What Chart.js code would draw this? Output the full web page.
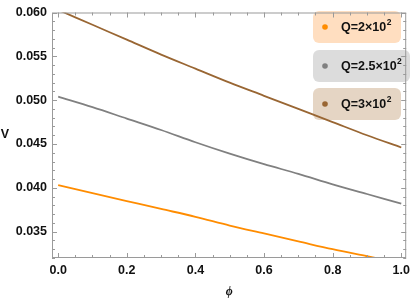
<!DOCTYPE html>
<html>
<head>
<meta charset="utf-8">
<script src="https://cdn.jsdelivr.net/npm/chart.js@4"></script>
<style>
  html, body { margin: 0; padding: 0; background: #fff; }
  #wrap { width: 415px; height: 299px; }
</style>
</head>
<body>
<div id="wrap"><canvas id="myChart" width="415" height="299"></canvas></div>
<script>
// phi values
const phi = [0, 0.1, 0.2, 0.3, 0.4, 0.5, 0.6, 0.7, 0.8, 0.9, 1.0];
// V for each Q
const vQ200 = [0.0403, 0.0394, 0.0385, 0.0376, 0.0367, 0.0357, 0.0348, 0.0339, 0.0330, 0.0322, 0.0314];
const vQ250 = [0.0504, 0.0492, 0.0479, 0.0466, 0.0452, 0.0439, 0.0427, 0.0416, 0.0404, 0.0393, 0.0382];
const vQ300 = [0.0603, 0.0586, 0.0569, 0.0552, 0.0536, 0.0520, 0.0505, 0.0490, 0.0475, 0.0460, 0.0446];

const xTicks = [0, 0.2, 0.4, 0.6, 0.8, 1.0];
const yTicks = [0.035, 0.040, 0.045, 0.050, 0.055, 0.060];
const legendNames = ["2", "2.5", "3"];

const colors = ["#ff8c00", "#808080", "#996633"];
const boxFills = ["rgba(255,200,150,0.6)", "rgba(205,205,205,0.7)", "rgba(215,190,165,0.65)"];

const mkData = (ys) => phi.map((x, i) => ({ x: x, y: ys[i] }));

const frameColor = "#9a9a9a";
const labelFont = "'Liberation Sans', Arial, sans-serif";

const framePlugin = {
  id: "framePlugin",
  afterDraw(chart) {
    const ctx = chart.ctx;
    const a = chart.chartArea;
    const xs = chart.scales.x, ys = chart.scales.y;
    ctx.save();
    ctx.strokeStyle = frameColor;
    ctx.lineWidth = 1;
    ctx.strokeRect(a.left + 0.5, a.top + 0.5, a.right - a.left - 1, a.bottom - a.top - 1);
    ctx.beginPath();
    // x ticks, every 0.05
    for (let k = 0; k <= 20; k++) {
      const v = k * 0.05;
      const px = Math.round(xs.getPixelForValue(v)) + 0.5;
      const len = (k % 4 === 0) ? 5 : 3;
      ctx.moveTo(px, a.bottom); ctx.lineTo(px, a.bottom - len);
      ctx.moveTo(px, a.top); ctx.lineTo(px, a.top + len);
    }
    // y ticks, every 0.001
    for (let k = 32; k <= 60; k++) {
      const v = k / 1000;
      const py = Math.round(ys.getPixelForValue(v)) + 0.5;
      const len = (k % 5 === 0) ? 5 : 3;
      ctx.moveTo(a.left, py); ctx.lineTo(a.left + len, py);
      ctx.moveTo(a.right, py); ctx.lineTo(a.right - len, py);
    }
    ctx.stroke();

    // axis titles
    ctx.fillStyle = "#111";
    ctx.textAlign = "center";
    ctx.textBaseline = "middle";
    ctx.font = "bold 12.5px " + labelFont;
    ctx.fillText("V", 5, 135);
    ctx.font = "italic bold 12px 'Liberation Serif', serif";
    ctx.fillText("ϕ", (a.left + a.right) / 2, 292);
    ctx.restore();
  }
};

const legendPlugin = {
  id: "legendPlugin",
  beforeDatasetsDraw(chart) {
    const ctx = chart.ctx;
    const boxes = [
      { x: 313, y: 11, w: 88 },
      { x: 313, y: 50, w: 97 },
      { x: 313, y: 88, w: 88 }
    ];
    ctx.save();
    boxes.forEach((b, i) => {
      const h = 32, r = 6;
      ctx.fillStyle = boxFills[i];
      ctx.beginPath();
      ctx.roundRect(b.x, b.y, b.w, h, r);
      ctx.fill();
      const cy = b.y + h / 2;
      ctx.fillStyle = colors[i];
      ctx.beginPath();
      ctx.arc(325, cy, 2.8, 0, Math.PI * 2);
      ctx.fill();
      ctx.fillStyle = "#111";
      ctx.textAlign = "left";
      ctx.textBaseline = "middle";
      ctx.font = "bold 12.5px " + labelFont;
      const main = "Q=" + legendNames[i] + "×10";
      ctx.fillText(main, 341, cy + 1);
      const w = ctx.measureText(main).width;
      ctx.font = "bold 8.5px " + labelFont;
      ctx.fillText("2", 341 + w + 0.5, cy - 4);
    });
    ctx.restore();
  }
};

new Chart("myChart", {
  type: "line",
  data: {
    datasets: [
      { label: "Q=2×10²", data: mkData(vQ200), borderColor: colors[0] },
      { label: "Q=2.5×10²", data: mkData(vQ250), borderColor: colors[1] },
      { label: "Q=3×10²", data: mkData(vQ300), borderColor: colors[2] }
    ]
  },
  options: {
    responsive: false,
    animation: false,
    layout: { padding: { top: 5, right: 4, left: 0, bottom: 0 } },
    elements: {
      line: { borderWidth: 1.8, cubicInterpolationMode: "monotone", fill: false },
      point: { radius: 0 }
    },
    scales: {
      x: {
        type: "linear",
        min: -0.018,
        max: 1.0144,
        afterBuildTicks: (s) => { s.ticks = xTicks.map(v => ({ value: v })); },
        afterFit: (s) => { s.height = 41; },
        grid: { display: false, drawTicks: false },
        border: { display: false },
        ticks: {
          padding: 5,
          color: "#111",
          maxRotation: 0,
          font: { family: labelFont, size: 12.5, weight: "bold" },
          callback: (v) => v.toFixed(1)
        }
      },
      y: {
        type: "linear",
        min: 0.032,
        max: 0.060,
        afterBuildTicks: (s) => { s.ticks = yTicks.map(v => ({ value: v })); },
        afterFit: (s) => { s.width = 52; },
        grid: { display: false, drawTicks: false },
        border: { display: false },
        ticks: {
          padding: 5,
          color: "#111",
          font: { family: labelFont, size: 12.5, weight: "bold" },
          callback: (v) => v.toFixed(3)
        }
      }
    },
    plugins: {
      legend: { display: false },
      tooltip: { enabled: false }
    }
  },
  plugins: [legendPlugin, framePlugin]
});
</script>
</body>
</html>
